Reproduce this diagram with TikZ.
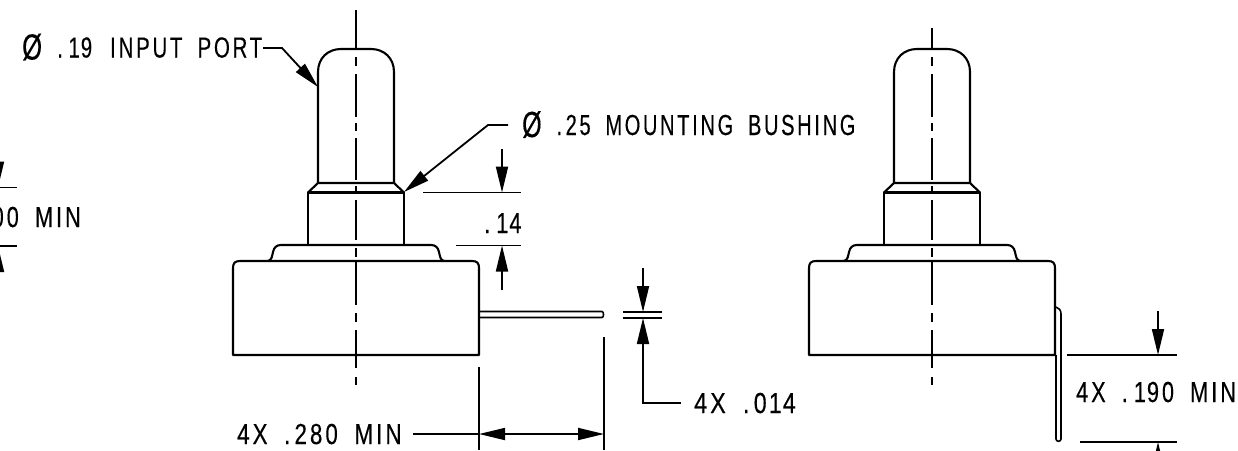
\documentclass[tikz,border=0pt]{standalone}
\usepackage{fontspec}
\usepackage{graphicx}
\setmainfont[FakeStretch=0.75,LetterSpace=10,WordSpace=1.8,FakeBold=0.3]{Liberation Sans}
\usetikzlibrary{arrows.meta}
\newcommand{\Ii}{\kern3pt I\kern3pt}
\newcommand{\Dt}{.\kern4pt}
\newcommand{\Oo}{\kern2pt 1\kern1pt}
\newcommand{\Dia}{\raisebox{-2pt}{\scalebox{1.25}{Ø}}}
\tikzset{
  x=1pt,y=-1pt,
  obj/.style={line width=2.1pt,line join=round,black},
  thin line/.style={line width=1.8pt,black},
  head/.tip={Triangle[length=26pt,width=12pt]},
  dimarrow/.style={thin line,-head},
  lbl/.style={inner sep=0pt,anchor=base west,font=\fontsize{29}{30}\selectfont},
}
\newcommand{\cadbody}{%
  \draw[obj] (318,183) -- (318,72) .. controls (318,58) and (328,49) .. (341,49) -- (371,49) .. controls (384,49) and (394,58) .. (394,72) -- (394,183);
  \draw[obj] (308,192.5) -- (318,183) -- (394,183) -- (404,192.5);
  \draw[obj] (308,245) -- (308,192.5) -- (404,192.5) -- (404,245);
  \draw[obj] (268,261) .. controls (272,260) and (272,256) .. (273,252) .. controls (274,247) and (277,245) .. (281,245) -- (431,245) .. controls (435,245) and (438,247) .. (439,252) .. controls (440,256) and (440,260) .. (444,261);
  \draw[obj] (233,355) -- (233,268) .. controls (233,263) and (235,261) .. (240,261) -- (472,261) .. controls (477,261) and (479,263) .. (479,268) -- (479,355) -- cycle;
}
\begin{document}
\begin{tikzpicture}
\useasboundingbox (0,0) rectangle (1238,450);
\clip (0,0) rectangle (1238,450);
% left view
\cadbody
\foreach \a/\b in {10/49,57/66,74/117,123/131,138/180,186/193,200/240,248/257,262/305,313/322,330/368,377/385}
  \draw[thin line] (356,\a) -- (356,\b);
% right view
\begin{scope}[xshift=576pt]
\cadbody
\end{scope}
\foreach \a/\b in {28/49,57/66,74/117,123/131,138/180,186/193,200/240,248/257,262/305,313/322,330/368,377/385}
  \draw[thin line] (932,\a) -- (932,\b);
% horizontal pin
\draw[obj,line width=1.6pt] (479,311.5) -- (602,311.5) .. controls (604,311.5) and (604,317.5) .. (602,317.5) -- (479,317.5);
% vertical pin
\draw[obj,line width=1.6pt] (1056,307) .. controls (1059,308) and (1061,310) .. (1061,314) -- (1061,439) .. controls (1061,442) and (1056,442) .. (1056,439) -- (1056,355);
% labels
\node[lbl] (port) at (22,57.5) {\scalebox{.94}[1]{\Dia{} \Dt\Oo 9 \Ii NPUT PORT}};
\node[lbl] (bush) at (522,135) {\scalebox{.92}[1]{\Dia{} \Dt 25 MOUNT\Ii NG BUSH\Ii NG}};
\node[lbl] (d14) at (484,233) {\Dt\Oo 4};
\node[lbl] (d014) at (694,413) {\scalebox{1.07}[1]{4X \Dt 0\Oo 4}};
\node[lbl] (d280) at (237,444) {\scalebox{1.03}[1]{4X \Dt 280 M\Ii N}};
\node[lbl] (d190) at (1076,402) {4X \Dt\Oo 90 M\Ii N};
\node[lbl,anchor=base east] (d100) at (81,227) {00 M\Ii N};
% leaders
\coordinate (portA) at (263,48);
\coordinate (portB) at (282,48);
\coordinate (portT) at (318,87);
\draw[dimarrow] (portA) -- (portB) -- (portT);
\coordinate (bushA) at (508,125);
\coordinate (bushB) at (488,125);
\coordinate (bushT) at (404,192);
\draw[dimarrow] (bushA) -- (bushB) -- (bushT);
% .14 dimension
\draw[thin line] (423,192.5) -- (521,192.5);
\draw[thin line] (456,245.5) -- (521,245.5);
\draw[dimarrow] (502,149) -- (502,192.5);
\draw[dimarrow] (502,290) -- (502,245.5);
% .014 dimension
\draw[thin line] (623,312) -- (662,312);
\draw[thin line] (623,318) -- (662,318);
\draw[dimarrow] (643,268) -- (643,312);
\coordinate (lA) at (681,403);
\coordinate (lB) at (643,403);
\draw[dimarrow] (lA) -- (lB) -- (643,318);
% .280 dimension
\draw[thin line] (479,367) -- (479,450);
\draw[thin line] (604,337) -- (604,450);
\draw[thin line] (413,434) -- (479,434);
\draw[thin line,head-head] (479,434) -- (604,434);
% .190 dimension
\draw[thin line] (1067,355) -- (1177,355);
\draw[thin line] (1080,442) -- (1177,442);
\draw[dimarrow] (1158,311) -- (1158,355);
\draw[dimarrow] (1158,490) -- (1158,442);
% clipped dimension at left edge
\draw[thin line] (0,187.5) -- (17,187.5);
\draw[thin line] (0,246) -- (17,246);
\draw[dimarrow] (-2,140) -- (-2,187.5);
\draw[dimarrow] (-2,290) -- (-2,246);
\end{tikzpicture}
\end{document}
